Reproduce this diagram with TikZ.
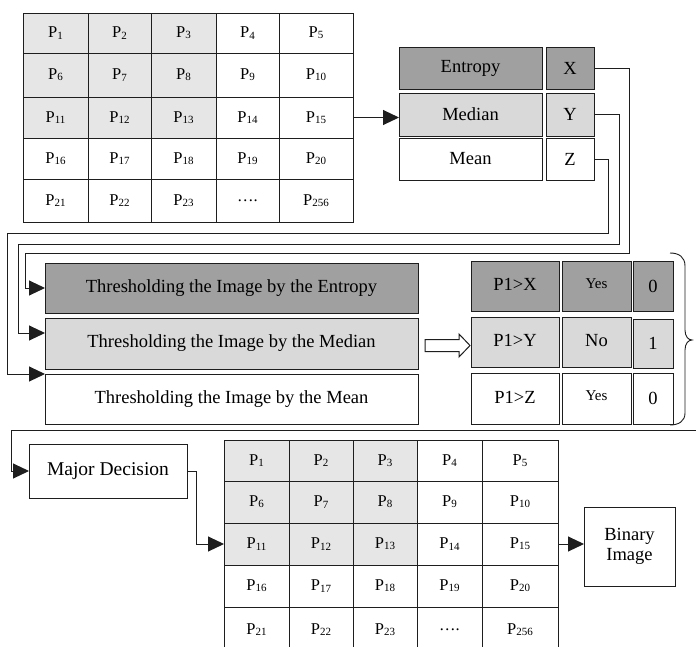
\documentclass[tikz,border=0pt]{standalone}
\usepackage{fontspec}
\setmainfont{Liberation Serif}
\usetikzlibrary{arrows.meta,calc}
\definecolor{gdark}{RGB}{160,160,160}
\definecolor{glight}{RGB}{217,217,217}
\definecolor{gshade}{RGB}{230,230,230}
\definecolor{ln}{RGB}{30,30,30}
\tikzset{
 box/.style={draw=ln, line width=1pt, inner sep=0pt, outer sep=0pt, anchor=center},
 cell/.style={box, font=\fontsize{16.5}{18}\selectfont},
 big/.style={font=\fontsize{18.5}{20}\selectfont},
 mid/.style={font=\fontsize{19.5}{21}\selectfont},
 small/.style={font=\fontsize{15}{17}\selectfont},
 conn/.style={draw=ln, line width=1pt},
 arr/.style={conn, -{Triangle[length=16pt,width=15pt]}},
}
\newcommand\mybox[7]{\node[box,#6,minimum width={#4-#2},minimum height={#5-#3}] (#1) at ({(#2+#4)/2},{(#3+#5)/2}) {#7};}
\newcommand\psub[1]{P\raisebox{-1.2pt}{\fontsize{11}{12}\selectfont #1}}
\begin{document}
\begin{tikzpicture}[x=1pt,y=-1pt]
\useasboundingbox (0,0) rectangle (696,646);
\fill[white] (0,0) rectangle (696,646);
% top grid
\foreach \r/\ya/\yb in {1/13/53,2/53/97,3/97/138,4/138/179,5/179/222}{
 \foreach \c/\xa/\xb in {1/23/88,2/88/151,3/151/216,4/216/279,5/279/353}{
  \pgfmathtruncatemacro\k{(\r-1)*5+\c}
  \pgfmathtruncatemacro\sh{and(\r<4,\c<4)}
  \ifnum\sh=1 \def\fc{gshade}\else\def\fc{white}\fi
  \ifnum\k=24 \def\lab{….}\else\ifnum\k=25 \def\lab{\psub{256}}\else\def\lab{\psub{\k}}\fi\fi
  \mybox{t\r\c}{\xa}{\ya}{\xb}{\yb}{cell,fill=\fc}{\lab}
 }}
% bottom grid
\foreach \r/\ya/\yb in {1/440/481,2/481/523,3/523/565,4/565/607,5/607/652}{
 \foreach \c/\xa/\xb in {1/224/289,2/289/353,3/353/417,4/417/482,5/482/558}{
  \pgfmathtruncatemacro\k{(\r-1)*5+\c}
  \pgfmathtruncatemacro\sh{and(\r<4,\c<4)}
  \ifnum\sh=1 \def\fc{gshade}\else\def\fc{white}\fi
  \ifnum\k=24 \def\lab{….}\else\ifnum\k=25 \def\lab{\psub{256}}\else\def\lab{\psub{\k}}\fi\fi
  \mybox{b\r\c}{\xa}{\ya}{\xb}{\yb}{cell,fill=\fc}{\lab}
 }}
% statistics boxes
\mybox{ent}{399}{47}{542}{89}{big,fill=gdark}{Entropy}
\mybox{X}{546}{47}{594}{89}{big,fill=gdark}{X}
\mybox{med}{399}{93}{542}{136}{big,fill=glight}{Median}
\mybox{Y}{546}{93}{594}{136}{big,fill=glight}{Y}
\mybox{mea}{399}{138}{542}{180}{big,fill=white}{Mean}
\mybox{Z}{546}{138}{594}{180}{big,fill=white}{Z}
% thresholding boxes
\mybox{thE}{45}{263}{418}{313}{big,fill=gdark}{Thresholding the Image by the Entropy}
\mybox{thM}{45}{318}{418}{369}{big,fill=glight}{Thresholding the Image by the Median}
\mybox{thA}{45}{374}{418}{424}{big,fill=white}{Thresholding the Image by the Mean}
% decision table
\mybox{c11}{471}{261}{559}{311}{big,fill=gdark}{\raisebox{3pt}{P1>X}}
\mybox{c12}{562}{261}{631}{311}{small,fill=gdark}{\raisebox{5pt}{Yes}}
\mybox{c13}{633}{261}{673}{311}{big,fill=gdark}{0}
\mybox{c21}{471}{317}{559}{367}{big,fill=glight}{\raisebox{3pt}{P1>Y}}
\mybox{c22}{562}{317}{631}{367}{big,fill=glight}{\raisebox{3pt}{No}}
\mybox{c23}{633}{319}{673}{368}{big,fill=glight}{\raisebox{-1pt}{1}}
\mybox{c31}{471}{373}{559}{424}{big,fill=white}{\raisebox{3pt}{P1>Z}}
\mybox{c32}{562}{373}{631}{424}{small,fill=white}{\raisebox{5pt}{Yes}}
\mybox{c33}{633}{373}{673}{424}{big,fill=white}{\raisebox{-1pt}{0}}
% major decision & binary image
\mybox{maj}{29}{444}{187}{498}{mid,fill=white}{Major Decision}
\mybox{bin}{584}{507}{675}{586}{big,fill=white,align=center}{Binary\\Image}
% connectors
\draw[arr] (t35.east) -- (t35.east -| med.west);
\draw[arr] (X.east) -| (629,253) -| (25,288) -- (thE.west);
\draw[arr] (Y.east) -| (619,244) -| (18,333) -- ($(thM.north west)+(0,15)$);
\draw[arr] (Z.east) -| (608,233) -| (7,374) -- (thA.north west);
% hollow arrow
\coordinate (ha) at ($(thM.east)+(7,2)$);
\draw[conn, fill=white] (ha) ++(0,-6) -- ++(34,0) -- ++(0,-5.5) -- ++(11,11.5) -- ++(-11,11.5) -- ++(0,-5.5) -- ++(-34,0) -- cycle;
% brace
\draw[conn, line width=0.9pt] (670,253) .. controls (679,253) and (685,257) .. (685,266) -- (685,330) .. controls (685,336) and (688,340) .. (692,340) .. controls (688,340) and (685,344) .. (685,350) -- (685,413) .. controls (685,421) and (679,425) .. (670,425);
% line to major decision
\coordinate (lr) at (696,430);
\draw[arr] (lr) -| (11,471) -- (maj.west);
\draw[arr] (maj.east) -| ($(b31.west)+(-28,0)$) -- (b31.west);
\draw[arr] (b35.east) -- (b35.east -| bin.west);
\end{tikzpicture}
\end{document}
